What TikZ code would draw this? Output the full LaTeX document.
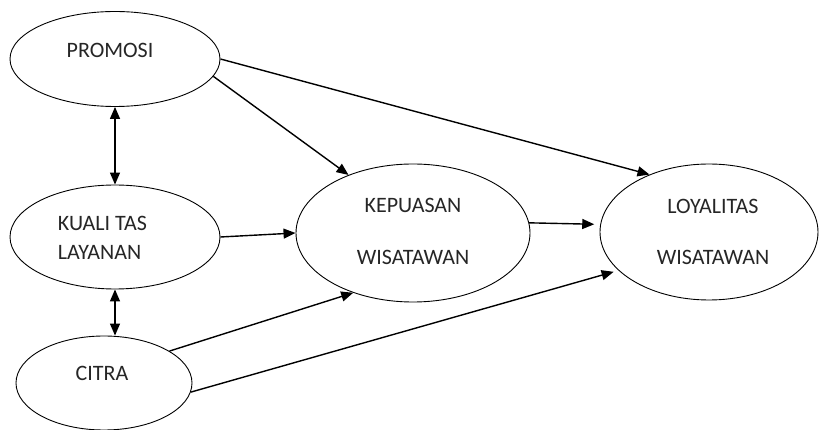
\documentclass[tikz,border=0pt]{standalone}
\usepackage{fontspec}
\setmainfont{Carlito}
\usetikzlibrary{shapes.geometric, arrows.meta}

\tikzset{
  var/.style={draw, ellipse, line width=0.9pt, inner sep=0pt},
  lbl/.style={inner sep=0.75pt, font=\fontsize{22}{29}\selectfont, text=black!85},
  path/.style={line width=1.4pt, -{Triangle[length=12pt,width=10pt]}},
  twoway/.style={line width=1.4pt, {Triangle[length=12pt,width=10pt]}-{Triangle[length=12pt,width=10pt]}}
}

\begin{document}
\begin{tikzpicture}[x=1pt,y=1pt,yscale=-1,xscale=1]
\useasboundingbox (0,0) rectangle (820,430);

%Shapes: Ellipses
\node[var, minimum width=210, minimum height=95] (promosi) at (115,59) {};
\node[var, minimum width=210, minimum height=104] (kualitas) at (115,237) {};
\node[var, minimum width=176, minimum height=94] (citra) at (104,383) {};
\node[var, minimum width=234, minimum height=138] (kepuasan) at (413,233) {};
\node[var, minimum width=218, minimum height=136] (loyalitas) at (709,232) {};

% Text Node
\node[lbl] (promosi-txt) at (110,50) {PROMOSI};
% Text Node
\node[lbl, anchor=west, align=left] (kualitas-txt) at (57,237.5) {KUALI TAS\\LAYANAN};
% Text Node
\node[lbl] (citra-txt) at (102,373) {CITRA};
% Text Node
\node[lbl, align=center] (kepuasan-txt) at (413,231) {KEPUASAN\\[23pt]WISATAWAN};
% Text Node
\node[lbl, align=center] (loyalitas-txt) at (713,231.5) {LOYALITAS\\[22pt]WISATAWAN};

%Straight Lines: correlations
\draw[twoway] (promosi.south) -- (kualitas.north);
\draw[twoway] (kualitas.south) -- (kualitas.south |- citra.north);

%Straight Lines: paths
\draw[path] (promosi.-10) -- (kepuasan.138);
\draw[path] (promosi.0) -- (loyalitas.136);
\draw[path] (kualitas.0) -- (kepuasan.180);
\draw[path, shorten >=6pt] (kepuasan.5) -- (loyalitas.176);
\draw[path] (citra.26) -- (kepuasan.-135);
\draw[path, shorten >=5pt] (citra.-6) -- (loyalitas.-157);

\end{tikzpicture}
\end{document}
